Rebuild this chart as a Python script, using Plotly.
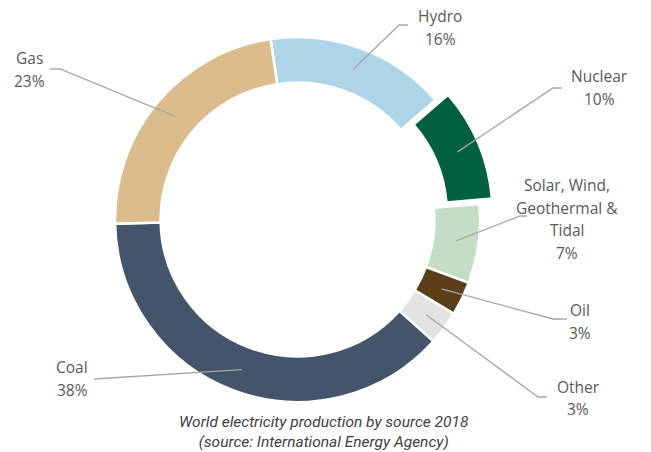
import math
import plotly.graph_objects as go

# ---- data ----
sources = ["Hydro", "Nuclear", "Solar, Wind,<br>Geothermal &<br>Tidal", "Oil", "Other", "Coal", "Gas"]
shares = [16, 10, 7, 3, 3, 38, 23]
share_labels = ["16%", "10%", "7%", "3%", "3%", "38%", "23%"]
colors = ["#AED5E7", "#02603F", "#C3DEC4", "#5B3F1A", "#E3E3E3", "#44546A", "#DBBD8D"]
pulls = [0, 0.075, 0, 0, 0, 0, 0]

# ---- layout constants (pixels) ----
W, H = 651, 452
CX, CY, R = 297.5, 219.5, 182.5
HOLE = 0.75
ROT = -8.5  # start of first slice, degrees clockwise from 12 o'clock
LEADER_R = 160
LINE_GAP = 22.5

# label text centres and leader elbow / end points (pixels)
label_pos = [(440, 27.5), (599, 87.5), (567, 219), (580, 321.5), (578, 398), (72, 378.5), (29, 69.5)]
elbows = [(399, 25), (553, 88), (520, 216), (553, 319), (538, 397), (94, 379), (60, 69)]
ends = [(408, 25), (562, 88), (527, 216), (567, 319), (547, 397), (94, 379), (50, 69)]


def P(x, y):
    return x / W, 1 - y / H


maxpull = max(pulls)
half = R * (1 + maxpull)
dom_x = [(CX - half) / W, (CX + half) / W]
dom_y = [1 - (CY + half) / H, 1 - (CY - half) / H]

fig = go.Figure(go.Pie(
    labels=sources, values=shares, sort=False, direction="clockwise",
    rotation=ROT, hole=HOLE, pull=pulls,
    marker=dict(colors=colors, line=dict(color="white", width=2.5)),
    textinfo="none", hoverinfo="label+percent", showlegend=False,
    domain=dict(x=dom_x, y=dom_y),
))

total = sum(shares)
cum = 0
shapes = []
annotations = []
for i, v in enumerate(shares):
    mid = math.radians(ROT + 360 * (cum + v / 2) / total)
    cum += v
    r = LEADER_R + pulls[i] * R
    sx, sy = CX + r * math.sin(mid), CY - r * math.cos(mid)
    ex, ey = elbows[i]
    fx, fy = ends[i]
    pts = [P(sx, sy), P(ex, ey), P(fx, fy)]
    path = "M {} {} L {} {} L {} {}".format(*pts[0], *pts[1], *pts[2])
    shapes.append(dict(type="path", xref="paper", yref="paper", path=path,
                       line=dict(color="#A6A6A6", width=1.3)))
    lines = sources[i].split("<br>") + [share_labels[i]]
    n = len(lines)
    cx_l, cy_l = label_pos[i]
    for k, line in enumerate(lines):
        lx, ly = P(cx_l, cy_l + (k - (n - 1) / 2) * LINE_GAP)
        annotations.append(dict(
            x=lx, y=ly, xref="paper", yref="paper", showarrow=False,
            text=line, xanchor="center", yanchor="middle",
            font=dict(family="Open Sans", size=15.5, color="#595959"),
        ))

cap_x, cap_y = P(324, 432)
annotations.append(dict(
    x=cap_x, y=cap_y, xref="paper", yref="paper", showarrow=False,
    text="<i>World electricity production by source 2018<br>(source: International Energy Agency)</i>",
    align="center", xanchor="center", yanchor="middle",
    font=dict(family="Roboto", size=15.5, color="#404040"),
))

fig.update_layout(
    width=W, height=H, margin=dict(l=0, r=0, t=0, b=0),
    paper_bgcolor="white", plot_bgcolor="white",
    shapes=shapes, annotations=annotations,
)
fig.write_html("out.html")
